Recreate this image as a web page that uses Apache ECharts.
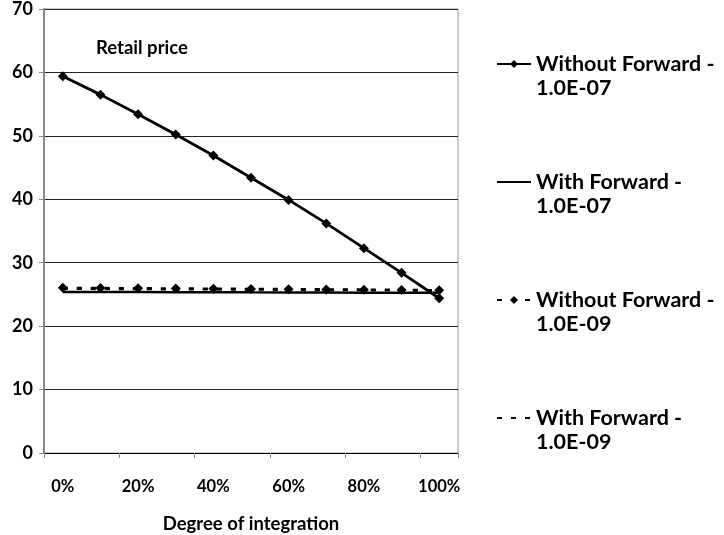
<!DOCTYPE html>
<html>
<head>
<meta charset="utf-8">
<script src="https://cdn.jsdelivr.net/npm/echarts@6/dist/echarts.min.js"></script>
<style>
html,body{margin:0;padding:0;background:#fff;}
#main{width:724px;height:535px;}
</style>
</head>
<body>
<div id="main"></div>
<script>
var categories = ['0%','10%','20%','30%','40%','50%','60%','70%','80%','90%','100%'];
var withoutForward07 = [59.4, 56.5, 53.4, 50.2, 46.9, 43.4, 39.9, 36.2, 32.3, 28.4, 24.4];
var withForward07 = [25.4, 25.4, 25.38, 25.36, 25.35, 25.33, 25.32, 25.3, 25.28, 25.27, 25.25];
var withoutForward09 = [26.05, 26.0, 25.97, 25.93, 25.9, 25.86, 25.83, 25.79, 25.75, 25.71, 25.65];
var withForward09 = [25.9, 25.88, 25.85, 25.82, 25.8, 25.77, 25.74, 25.71, 25.68, 25.65, 25.62];
var seriesNames = ['Without Forward - 1.0E-07', 'With Forward - 1.0E-07', 'Without Forward - 1.0E-09', 'With Forward - 1.0E-09'];
var yTicks = {min: 0, max: 70, interval: 10};

var FONT = 'Lato, "Open Sans", sans-serif';
var chart = echarts.init(document.getElementById('main'), null, {renderer: 'canvas'});
chart.setOption({
  animation: false,
  backgroundColor: '#fff',
  title: {
    text: 'Retail price', left: 91, top: 34,
    textStyle: {fontFamily: FONT, fontWeight: 'bold', fontSize: 18.5, color: '#000'}
  },
  grid: {left: 44, top: 9, right: 266, bottom: 82, containLabel: false, outerBoundsMode: 'none',
         show: true, borderColor: '#999', borderWidth: 1, backgroundColor: 'transparent'},
  legend: {
    orient: 'vertical', left: 491, top: 23, itemWidth: 34, itemHeight: 10, itemGap: 46,
    data: seriesNames,
    formatter: function (name) { return '\n' + name.replace(' 1.0E', '\n1.0E'); },
    textStyle: {fontFamily: FONT, fontWeight: 'bold', fontSize: 21.5, color: '#000', lineHeight: 24}
  },
  xAxis: {
    type: 'category', data: categories, boundaryGap: true,
    name: 'Degree of integration', nameLocation: 'middle', nameGap: 62,
    nameTextStyle: {fontFamily: FONT, fontWeight: 'bold', fontSize: 18.5, color: '#000'},
    axisLine: {lineStyle: {color: '#000', width: 1}},
    axisTick: {show: true, interval: 1, length: 5, lineStyle: {color: '#888'}},
    axisLabel: {interval: 1, margin: 25, fontFamily: FONT, fontWeight: 'bold', fontSize: 16.5, color: '#000'},
    splitLine: {show: false}
  },
  yAxis: {
    type: 'value', min: yTicks.min, max: yTicks.max, interval: yTicks.interval,
    axisLine: {show: true, lineStyle: {color: '#888', width: 2}},
    axisTick: {show: true, length: 5, lineStyle: {color: '#888'}},
    axisLabel: {margin: 11, fontFamily: FONT, fontWeight: 'bold', fontSize: 18, color: '#000'},
    splitLine: {show: true, lineStyle: {color: '#222', width: 1}}
  },
  series: [
    {name: seriesNames[0], type: 'line', data: withoutForward07, symbol: 'diamond', symbolSize: 10,
     lineStyle: {color: '#000', width: 2.8}, itemStyle: {color: '#000'}, z: 5},
    {name: seriesNames[1], type: 'line', data: withForward07, symbol: 'circle', showSymbol: false,
     lineStyle: {color: '#000', width: 2.5}, itemStyle: {color: 'rgba(0,0,0,0)', borderWidth: 0}, z: 4},
    {name: seriesNames[2], type: 'line', data: withoutForward09, symbol: 'diamond', symbolSize: 10,
     lineStyle: {color: '#000', width: 2.5, type: [5, 9]}, itemStyle: {color: '#000'}, z: 3},
    {name: seriesNames[3], type: 'line', data: withForward09, symbol: 'circle', showSymbol: false,
     lineStyle: {color: '#000', width: 2.5, type: [5, 9]}, itemStyle: {color: 'rgba(0,0,0,0)', borderWidth: 0}, z: 2}
  ]
});
</script>
</body>
</html>
